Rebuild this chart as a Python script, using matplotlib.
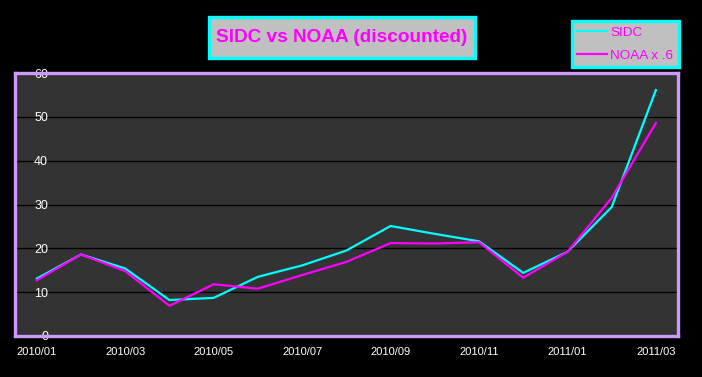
import matplotlib
matplotlib.use("Agg")
import matplotlib.pyplot as plt
from matplotlib.patches import Rectangle

months = ["2010/01", "2010/02", "2010/03", "2010/04", "2010/05", "2010/06", "2010/07",
          "2010/08", "2010/09", "2010/10", "2010/11", "2010/12", "2011/01", "2011/02", "2011/03"]
sidc = [13.1, 18.6, 15.4, 8.2, 8.7, 13.5, 16.1, 19.5, 25.1, 23.3, 21.6, 14.4, 19.2, 29.4, 56.1]
noaa = [12.7, 18.6, 14.8, 6.9, 11.8, 10.8, 13.9, 16.9, 21.2, 21.1, 21.4, 13.3, 19.2, 31.5, 48.6]
yticks = [0, 10, 20, 30, 40, 50, 60]

plt.rcParams['font.family'] = ['Liberation Sans', 'DejaVu Sans']
W, H = 702, 377
fig = plt.figure(figsize=(W / 100, H / 100), dpi=100, facecolor='black')
ax = fig.add_axes([14.7 / W, 1 - 336 / H, (678 - 14.7) / W, 263 / H])
ax.set_facecolor('#333333')

x = list(range(len(months)))
ax.plot(x, sidc, color='#00FFFF', lw=1.6, label='SIDC', zorder=3)
ax.plot(x, noaa, color='#FF00FF', lw=1.6, label='NOAA x .6', zorder=3)

ax.set_xlim(-0.5, len(months) - 0.5)
ax.set_ylim(0, 60)
ax.set_yticks(yticks)
ax.set_xticks(x[::2])
ax.set_xticklabels(months[::2])
ax.grid(axis='y', color='black', lw=1)
ax.set_axisbelow(True)
ax.tick_params(axis='y', length=0, pad=-24, colors='white', labelsize=9)
ax.tick_params(axis='x', length=0, pad=8, colors='white', labelsize=8)
for s in ax.spines.values():
    s.set_color('#CC99FF')
    s.set_linewidth(2.4)
    s.set_zorder(5)

# title box
fig.patches.append(Rectangle((209 / W, 1 - 58 / H), 266 / W, 41 / H, transform=fig.transFigure,
                             facecolor='#C0C0C0', edgecolor='#00FFFF', lw=2.4))
fig.text(342 / W, 1 - 38 / H, 'SIDC vs NOAA (discounted)', color='#FF00FF', fontsize=13.7,
         fontweight='bold', ha='center', va='center')

leg = fig.legend(loc='upper left', bbox_to_anchor=(572 / W, 1 - 21 / H), borderaxespad=0,
                 facecolor='#C0C0C0', edgecolor='#00FFFF', framealpha=1, fancybox=False,
                 labelcolor='#FF00FF', fontsize=9.7, handlelength=2.2, handletextpad=0.25,
                 borderpad=0.4, labelspacing=0.8)
leg.get_frame().set_linewidth(2.4)

fig.savefig('out.png', dpi=100, facecolor='black')
